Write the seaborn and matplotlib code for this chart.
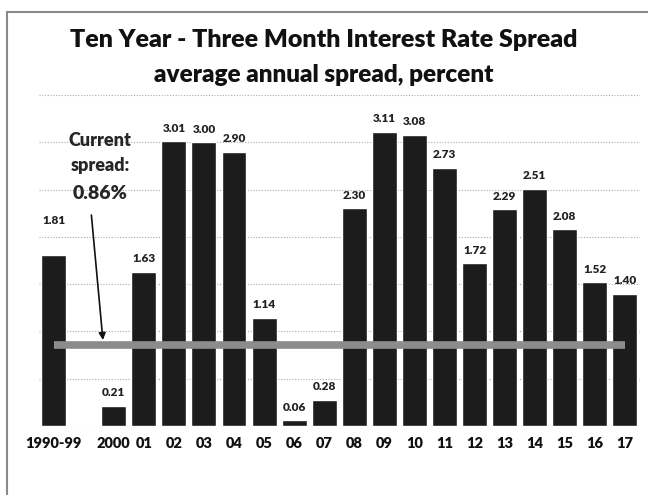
import numpy as np
import pandas as pd
import seaborn as sns
import matplotlib.pyplot as plt
from matplotlib.patches import Rectangle

# data
years = ['1990-99', ' ', '2000', '01', '02', '03', '04', '05', '06', '07', '08',
         '09', '10', '11', '12', '13', '14', '15', '16', '17']
spread = [1.81, np.nan, 0.21, 1.63, 3.01, 3.00, 2.90, 1.14, 0.06, 0.28, 2.30,
          3.11, 3.08, 2.73, 1.72, 2.29, 2.51, 2.08, 1.52, 1.40]
current_spread = 0.86

df = pd.DataFrame({'year': years, 'spread': spread})

sns.set_style('white')
plt.rcParams['font.family'] = ['Lato', 'DejaVu Sans']

W, H = 648, 495
fig = plt.figure(figsize=(W / 100, H / 100), dpi=100)
ax = fig.add_axes([38.5 / W, (H - 426) / H, (640 - 38.5) / W, (426 - 95) / H])

sns.barplot(data=df, x='year', y='spread', order=years, color='#1c1c1c',
            saturation=1, width=0.83, ax=ax, zorder=2)

# horizontal line for current spread
n = len(years)
ax.plot([0, n - 1], [current_spread, current_spread], color='#8c8c8c', lw=5.5,
        zorder=3, solid_capstyle='butt')

# value labels
for i, v in enumerate(spread):
    if np.isnan(v):
        continue
    off = 25 if i == 0 else 9.5
    ax.annotate(f'{v:.2f}', (i, v), xytext=(0, off), textcoords='offset points',
                ha='center', va='center', fontsize=8.5, fontweight='heavy', color='#222222')

ax.set_ylim(0, 3.5)
ax.set_xlim(-0.5, n - 0.5)
for y in np.arange(0, 3.51, 0.5):
    ax.axhline(y, color='#aaaaaa', lw=0.8, ls=(0, (1, 1.5)), zorder=1)

for s in ax.spines.values():
    s.set_visible(False)
ax.set_yticks([])
ax.set_xlabel('')
ax.set_ylabel('')
ax.set_xticks(range(n))
ax.set_xticklabels(years, fontsize=10.5, fontweight='heavy', color='#111111')
ax.tick_params(axis='x', length=0, pad=8)
ax.set_xticks(np.arange(-0.5, n, 1), minor=True)
ax.tick_params(axis='x', which='minor', length=3, color='#aaaaaa', width=0.6)

# annotation
ax.text(1.55, 3.02, 'Current', ha='center', va='center', fontsize=13, fontweight='heavy')
ax.text(1.55, 2.75, 'spread:', ha='center', va='center', fontsize=13, fontweight='heavy')
ax.text(1.55, 2.46, '0.86%', ha='center', va='center', fontsize=14, fontweight='heavy')
ax.annotate('', xy=(1.65, 0.88), xytext=(1.25, 2.26),
            arrowprops=dict(arrowstyle='-|>', color='#111111', lw=1.2, mutation_scale=10))

# titles
fig.text(0.5, (H - 40) / H, 'Ten Year - Three Month Interest Rate Spread', ha='center',
         va='center', fontsize=18, fontweight='heavy', color='#111111')
fig.text(0.5, (H - 75) / H, 'average annual spread, percent', ha='center',
         va='center', fontsize=17.5, fontweight='heavy', color='#111111')

# outer frame
fig.patches.append(Rectangle((7 / W, -0.1), 1.2, (H - 12) / H + 0.1, transform=fig.transFigure,
                             fill=False, ec='#8a8a8a', lw=1.5))

fig.savefig('out.png', dpi=100)
